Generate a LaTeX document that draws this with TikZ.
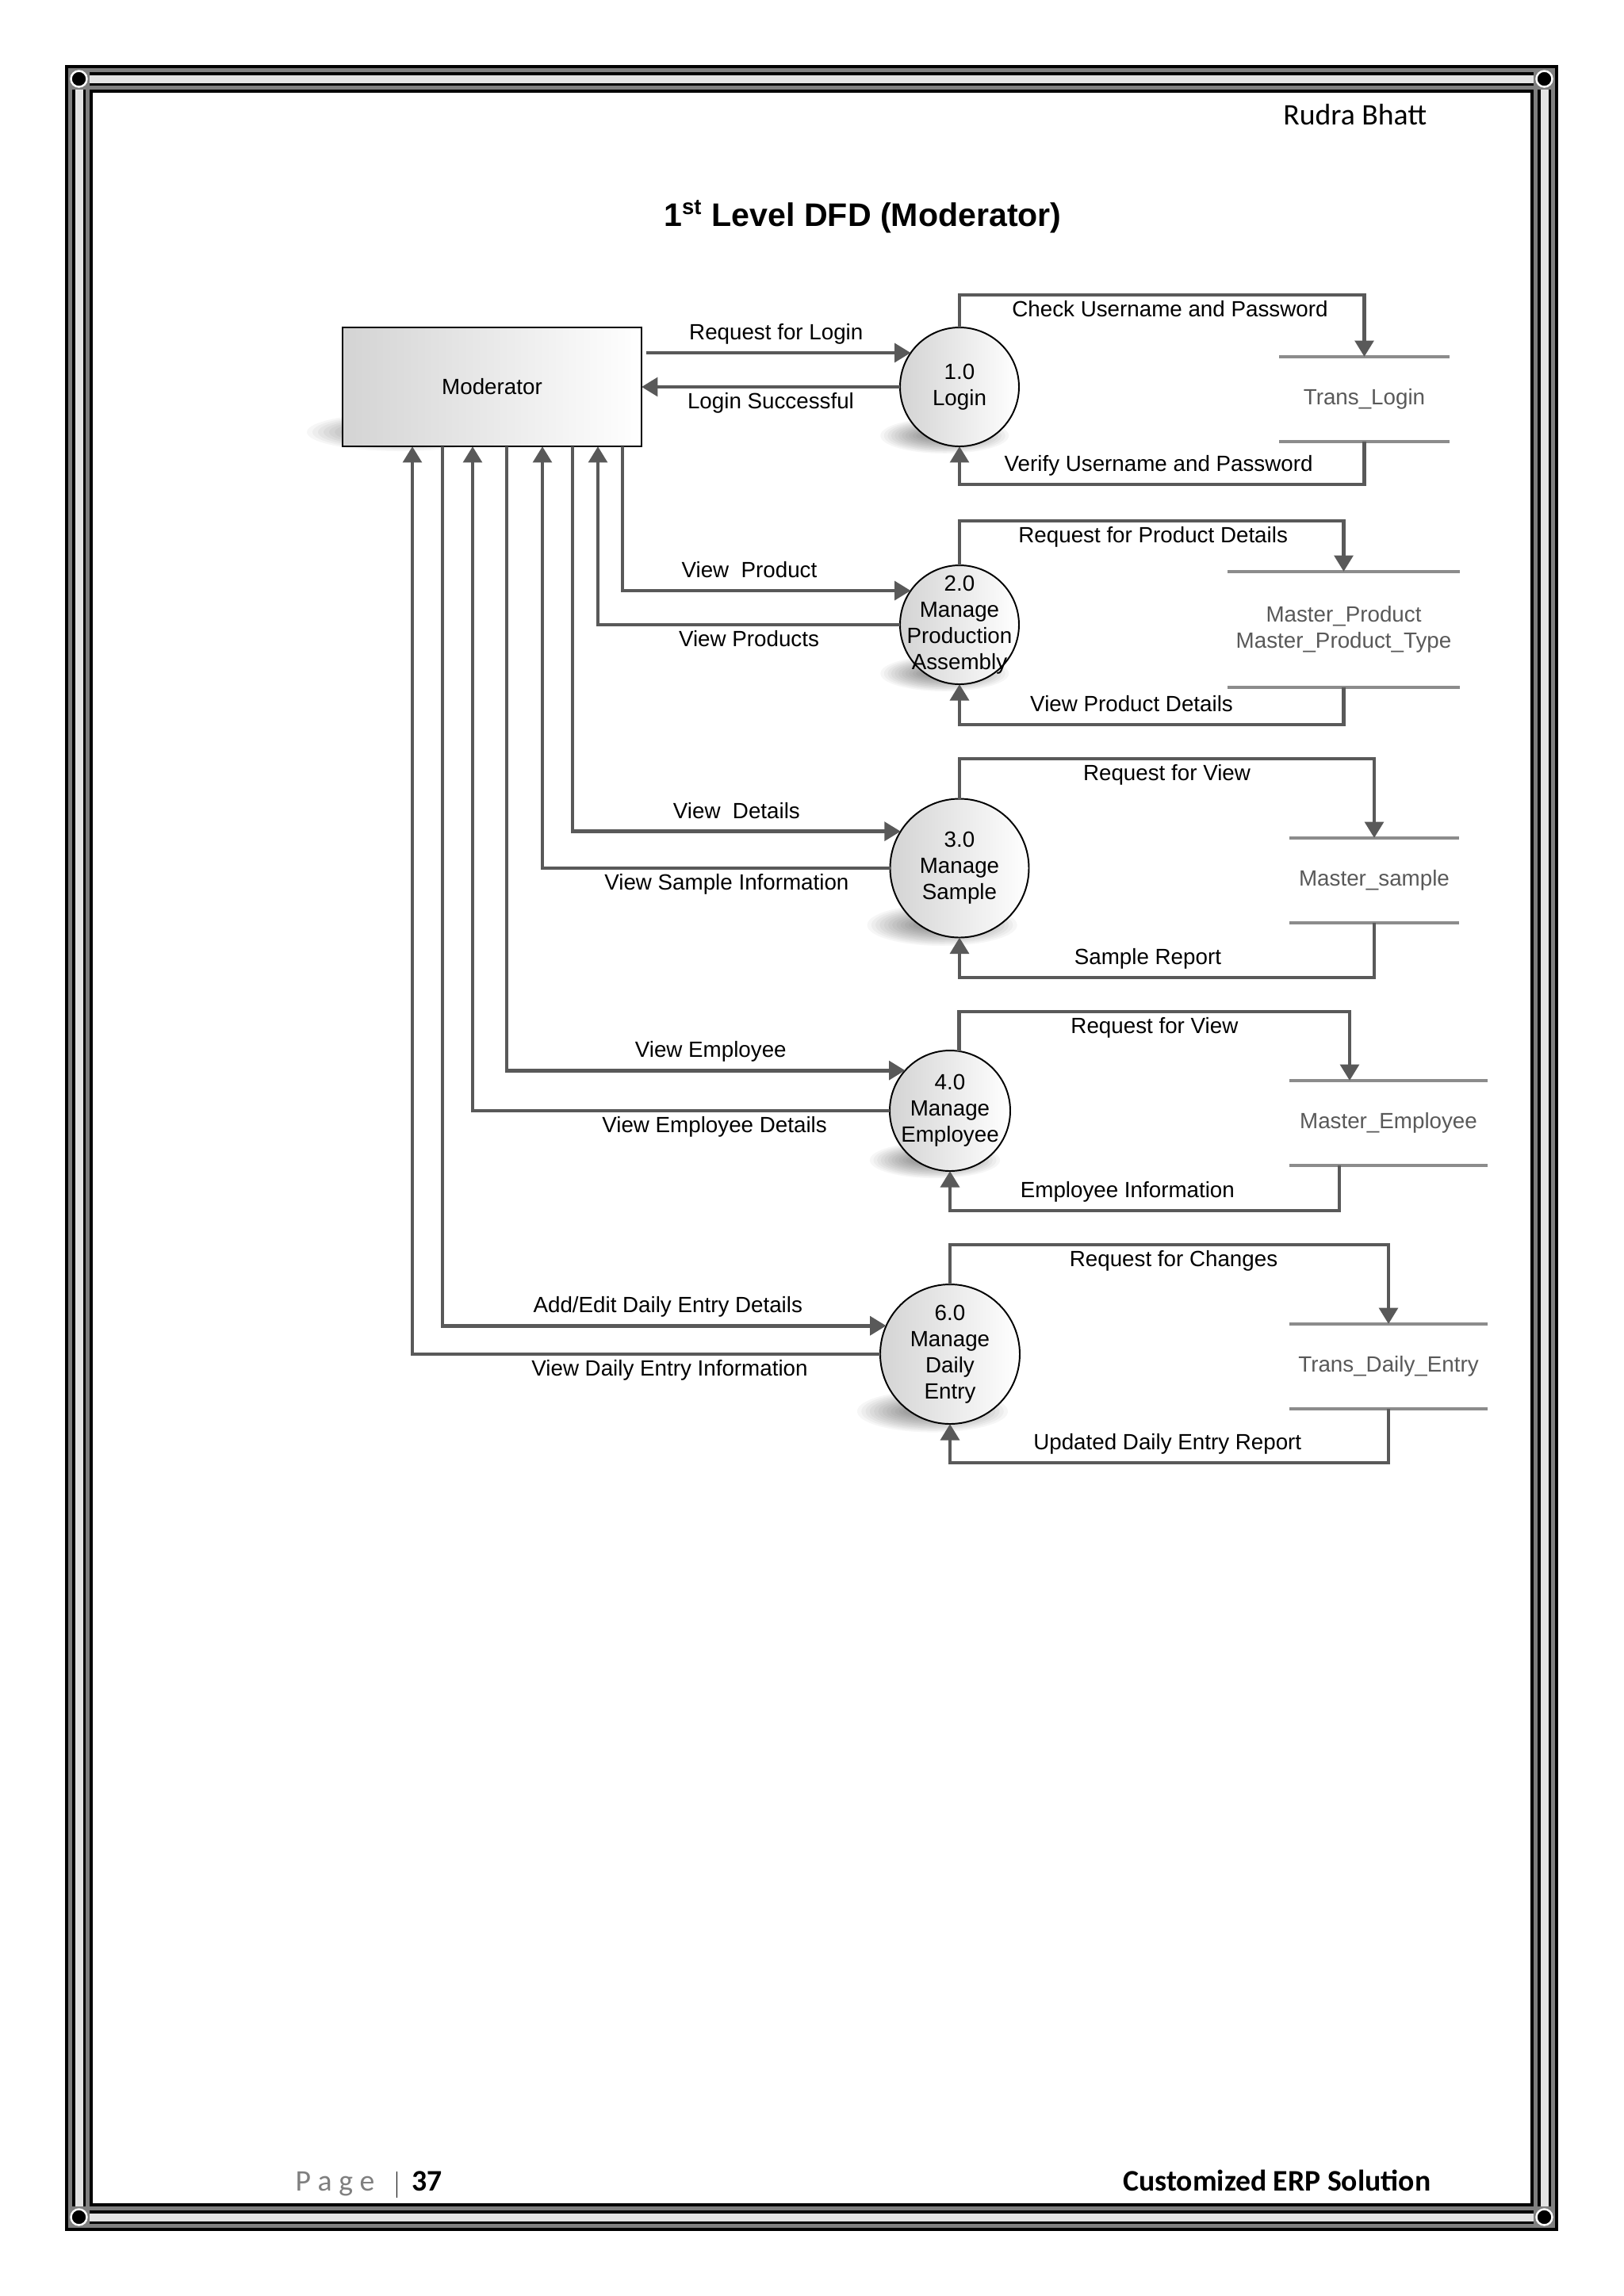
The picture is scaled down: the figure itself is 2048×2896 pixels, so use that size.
\documentclass[tikz,border=0pt]{standalone}
\usepackage{fontspec}
\setmainfont{Liberation Sans}
\newfontfamily\calibri{Carlito}
\usetikzlibrary{arrows.meta}

\newcommand{\pxsz}{0.10254mm}
\definecolor{flowgray}{HTML}{595959}
\definecolor{storegray}{HTML}{8C8C8C}
\definecolor{bandgray}{HTML}{7F7F7F}
\definecolor{bandlight}{HTML}{E3E3E3}

\begin{document}
\begin{tikzpicture}[
		x=0.10254mm, y=-0.10254mm,
		every node/.style={font=\fontsize{8.1}{9.6}\selectfont},
		pagetext/.style={inner sep=0, font=\calibri\fontsize{11}{13}\selectfont},
		extent/.style={rectangle, draw=black, line width=0.25mm, left color=black!17, right color=white, inner sep=0, outer sep=0},
		proc/.style={circle, draw=black, line width=0.2mm, left color=black!17, right color=white, inner sep=0, outer sep=0},
		ptext/.style={align=center, inner sep=0},
		store/.style={rectangle, inner sep=0, outer sep=0, text=flowgray, align=center},
		storeline/.style={draw=storegray, line width=0.45mm},
		flow/.style={draw=flowgray, line width=0.5mm, -{Triangle[length=2.1mm, width=2.4mm]}},
		lbl/.style={inner sep=1mm, text height=1.6mm, text depth=0.45mm},
		shadowblob/.style={fill=black, opacity=0.035}
		]
		
		\fill[white] (0,0) rectangle (2048,2896);
		\useasboundingbox (0,0) rectangle (2048,2896);
		
		% page border
		\foreach \w/\c in {35/black, 27/bandgray, 17/black, 10/bandlight}
			\draw[line width=\w*\pxsz, draw=\c] (99.5,99.5) rectangle (1947.5,2796.5);
		\foreach \cx/\cy in {99.5/99.5, 1947.5/99.5, 99.5/2796.5, 1947.5/2796.5} {
			\fill[bandgray] (\cx-13.5,\cy-13.5) rectangle (\cx+13.5,\cy+13.5);
			\draw[white, line width=0.25mm, fill=black] (\cx,\cy) circle (10);
		}
		
		% header and footer
		\node[pagetext, anchor=base east] (author) at (1800,157) {Rudra Bhatt};
		\node[font=\bfseries\fontsize{12}{14}\selectfont, anchor=base, inner sep=0] (title) at (1088,285) {1\textsuperscript{st} Level DFD (Moderator)};
		\node[pagetext, anchor=base west] (pageno) at (372,2763)
			{{\color{bandgray}P a g e}\hspace{2.8mm}\rule[-0.9mm]{0.15mm}{3.4mm}\hspace{1.9mm}\textbf{37}};
		\node[pagetext, font=\calibri\bfseries\fontsize{11}{13}\selectfont, anchor=base east] (project) at (1805,2763) {Customized ERP Solution};
		
		% soft shadows
		\foreach \cx/\cy/\r in {1210/488/75, 1210/788/75, 1210/1095/87.5, 1198/1401/76, 1198/1708/88}
			\foreach \k in {0,...,11}
				\fill[shadowblob] ({\cx-0.25*\r},{\cy+0.82*\r}) ellipse ({(1.08-0.06*\k)*\r} and {(0.3-0.02*\k)*\r});
		\foreach \k in {0,...,11}
			\fill[shadowblob] (505,545) ellipse ({118-7*\k} and {24-1.7*\k});
		
		% external entity
		\node[extent, minimum width=377*\pxsz, minimum height=150*\pxsz] (mod) at (620.5,488) {Moderator};
		
		% processes
		\node[proc, minimum size=150*\pxsz] (p1) at (1210,488) {};
		\node[proc, minimum size=150*\pxsz] (p2) at (1210,788) {};
		\node[proc, minimum size=175*\pxsz] (p3) at (1210,1095) {};
		\node[proc, minimum size=152*\pxsz] (p4) at (1198,1401) {};
		\node[proc, minimum size=176*\pxsz] (p6) at (1198,1708) {};
		\node[ptext] (p1txt) at (p1) {1.0\\Login};
		\node[ptext] (p2txt) at (p2) {2.0\\Manage\\Production\\Assembly};
		\node[ptext] (p3txt) at (p3) {3.0\\Manage\\Sample};
		\node[ptext] (p4txt) at (p4) {4.0\\Manage\\Employee};
		\node[ptext] (p6txt) at (p6) {6.0\\Manage\\Daily\\Entry};
		
		% data stores
		\node[store, minimum width=215*\pxsz, minimum height=107*\pxsz] (s1) at (1720.5,503.5) {Trans\_Login};
		\node[store, minimum width=293*\pxsz, minimum height=146*\pxsz] (s2) at (1694.5,794) {Master\_Product\\Master\_Product\_Type};
		\node[store, minimum width=214*\pxsz, minimum height=107*\pxsz] (s3) at (1733,1110.5) {Master\_sample};
		\node[store, minimum width=250*\pxsz, minimum height=107*\pxsz] (s4) at (1751,1416.5) {Master\_Employee};
		\node[store, minimum width=250*\pxsz, minimum height=107*\pxsz] (s6) at (1751,1723.5) {Trans\_Daily\_Entry};
		\foreach \s in {s1,s2,s3,s4,s6}
			\draw[storeline] (\s.north west) -- (\s.north east) (\s.south west) -- (\s.south east);
		
		% taps on the moderator box
		\foreach \n/\x in {a/520, b/558, c/596, d/639, e/684, f/722, g/754, h/785}
			\coordinate (m\n) at (\x,0 |- mod.south);
		
		% moderator <-> processes
		\draw[flow, shorten <=0.6mm] (p1.145 -| mod.east) -- node[lbl, above] (lreq) {Request for Login} (p1.145);
		\draw[flow] (p1.west) -- node[lbl, below] (lsucc) {Login Successful} (p1.west -| mod.east);
		\draw[flow] (mh) |- node[lbl, above, pos=0.72] (lvp) {View\ \ Product} (p2.145);
		\draw[flow] (p2.west) -| node[lbl, below, pos=0.25] (lvps) {View Products} (mg);
		\draw[flow] (mf) |- node[lbl, above, pos=0.75] (lvd) {View\ \ Details} (p3.148);
		\draw[flow] (p3.west) -| node[lbl, below, pos=0.235] (lvsi) {View Sample Information} (me);
		\draw[flow] (md) |- node[lbl, above, pos=0.756] (lve) {View Employee} (p4.138);
		\draw[flow] (p4.west) -| node[lbl, below, pos=0.21] (lved) {View Employee Details} (mc);
		\draw[flow] (mb) |- node[lbl, above, pos=0.754] (lade) {Add/Edit Daily Entry Details} (p6.156);
		\draw[flow] (p6.west) -| node[lbl, below, pos=0.225] (lvdei) {View Daily Entry Information} (ma);
		
		% processes <-> data stores
		\draw[flow] (p1.north) -- ++(0,-41) -| node[lbl, below, pos=0.26] (lchk) {Check Username and Password} (s1.north);
		\draw[flow] (s1.south) -- ++(0,54) -| node[lbl, above, pos=0.254] (lver) {Verify Username and Password} (p1.south);
		\draw[flow] (p2.north) -- ++(0,-56) -| node[lbl, below, pos=0.252] (lrpd) {Request for Product Details} (s2.north);
		\draw[flow] (s2.south) -- ++(0,47) -| node[lbl, above, pos=0.276] (lvpd) {View Product Details} (p2.south);
		\draw[flow] (p3.north) -- ++(0,-50.5) -| node[lbl, below, pos=0.25] (lrv3) {Request for View} (s3.north);
		\draw[flow] (s3.south) -- ++(0,69) -| node[lbl, above, pos=0.273] (lsr) {Sample Report} (p3.south);
		\draw[flow] (p4.81) -- ++(0,-50) -| node[lbl, below, pos=0.25] (lrv4) {Request for View} ([xshift=-49*\pxsz]s4.north);
		\draw[flow] ([xshift=-62*\pxsz]s4.south) -- ++(0,57) -| node[lbl, above, pos=0.272] (lei) {Employee Information} (p4.south);
		\draw[flow] (p6.north) -- ++(0,-50) -| node[lbl, below, pos=0.255] (lrc) {Request for Changes} (s6.north);
		\draw[flow] (s6.south) -- ++(0,68) -| node[lbl, above, pos=0.252] (lude) {Updated Daily Entry Report} (p6.south);
	\end{tikzpicture}
\end{document}
